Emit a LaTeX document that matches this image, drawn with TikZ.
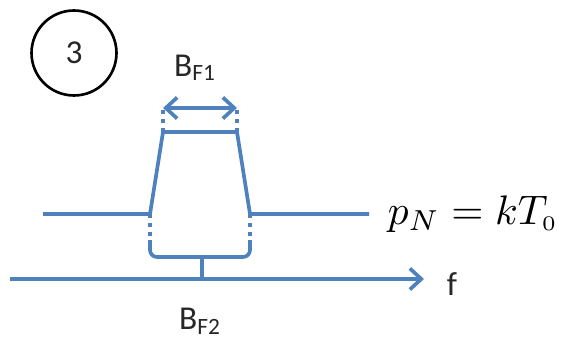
\documentclass[tikz,border=0pt]{standalone}
\usepackage{fontspec}
\setmainfont{Carlito}
\usepackage{tikz}
\usetikzlibrary{arrows.meta}

\definecolor{offblue}{RGB}{79,129,189}
\tikzset{
    bline/.style={offblue, line width=2.1pt},
    dotline/.style={offblue, line width=1.8pt, dash pattern=on 2.5pt off 2.5pt},
    barb/.tip={Straight Barb[length=6.5pt, width=12pt, line width=2.1pt]},
    lbl/.style={text=black!85, font=\fontsize{19}{22}\selectfont, inner sep=0pt}
}

\begin{document}
\begin{tikzpicture}[x=0.02cm, y=-0.02cm]

\useasboundingbox (0,0) rectangle (563,344);

% circled step number
\node[draw, circle, line width=1.5pt, minimum size=1.7cm, lbl] (step3) at (74,53) {3};

% filter shape
\coordinate (nl) at (43,214);
\coordinate (bl) at (150,214);
\coordinate (tl) at (163,132);
\coordinate (tr) at (237,132);
\coordinate (br) at (250,214);
\coordinate (nr) at (369,214);
\draw[bline, line join=round] (nl) -- (bl) -- (tl) -- (tr) -- (br) -- (nr);

% B_F1 width
\coordinate (al) at (163,108);
\coordinate (ar) at (237,108);
\draw[dotline] (tl) -- (al);
\draw[dotline] (tr) -- (ar);
\draw[bline, barb-barb] (al) -- (ar);
\node[lbl] (bf1) at (195,68) {B\textsubscript{F1}};

% B_F2 bracket
\coordinate (dl) at (150,242);
\coordinate (dr) at (250,242);
\coordinate (stem) at (202,257);
\coordinate (foot) at (202,278);
\draw[dotline] (bl) -- (dl);
\draw[dotline] (br) -- (dr);
\draw[bline, rounded corners=4] (dl) -- (150,257) -- (250,257) -- (dr);
\draw[bline] (stem) -- (foot);

% frequency axis
\coordinate (ax0) at (10,279);
\coordinate (ax1) at (424,279);
\draw[bline, -barb] (ax0) -- (ax1);
\node[lbl] (f) at (452,284) {f};
\node[lbl] (bf2) at (200,321) {B\textsubscript{F2}};

% noise level
\node[text=black, inner sep=0pt, scale=2.35] (pn) at (473,214) {$p_N = kT_{\scriptscriptstyle 0}$};

\end{tikzpicture}
\end{document}
